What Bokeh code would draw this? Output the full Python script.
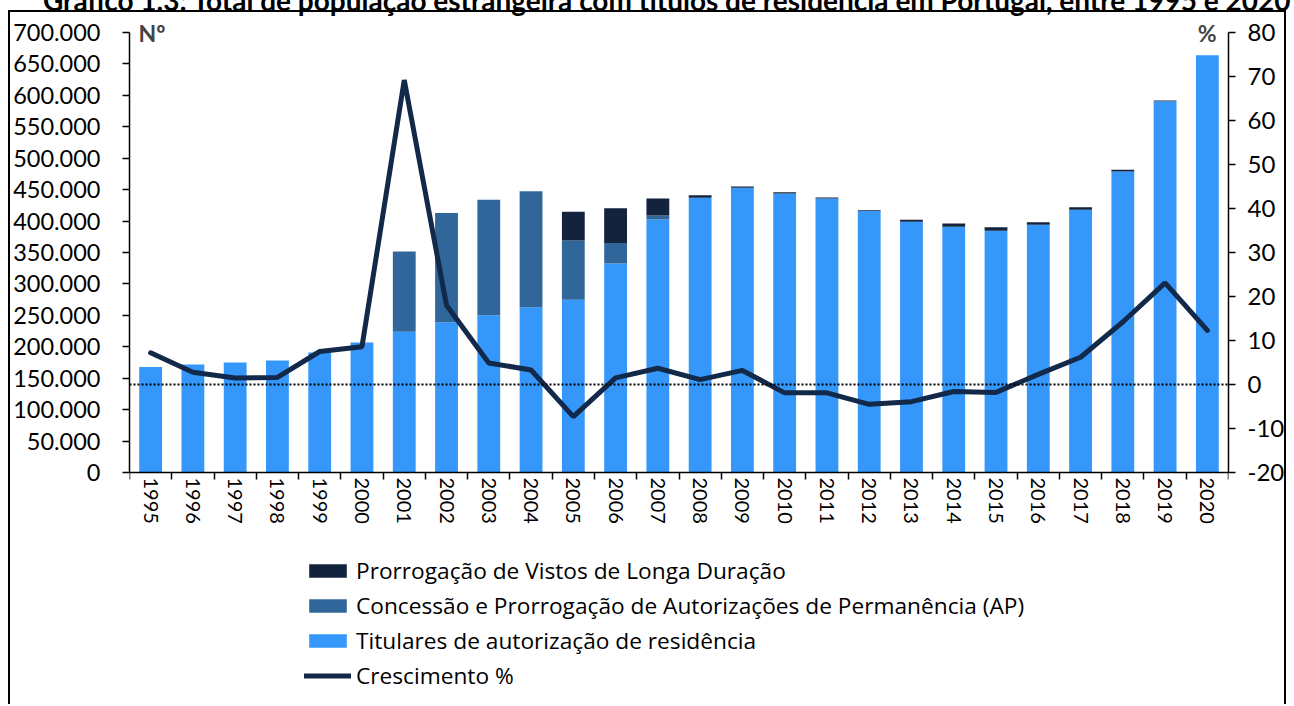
import numpy as np
from bokeh.plotting import figure
from bokeh.models import (Range1d, LinearAxis, FixedTicker, SingleIntervalTicker,
                          CustomJSTickFormatter, Legend, LegendItem, Span, Label,
                          ColumnDataSource, Div)
from bokeh.embed import file_html
from bokeh.resources import INLINE

# ---------------- data ----------------
title = ("Gráfico 1.3: Total de população estrangeira com títulos de residência "
         "em Portugal, entre 1995 e 2020")
years = [str(y) for y in range(1995, 2021)]
titulares = [168000, 172000, 175000, 178000, 191000, 207000, 224000, 239000, 250000,
             263000, 275000, 332500, 402500, 437000, 453000, 444000, 436000, 416000,
             399000, 391000, 384500, 394000, 418000, 479000, 590800, 664000]
autoriz_perm = [0, 0, 0, 0, 0, 0, 127600, 174000, 184000, 184500, 94000, 32500, 6500,
                0, 0, 0, 0, 0, 0, 0, 0, 0, 0, 0, 0, 0]
vistos_ld = [0, 0, 0, 0, 0, 0, 0, 0, 0, 0, 46000, 55500, 27000, 4000, 2000, 2000, 1500,
             1300, 3000, 5000, 5500, 4000, 4000, 2500, 1000, 0]
crescimento = [7.2, 2.8, 1.5, 1.6, 7.5, 8.6, 69.2, 18.0, 4.9, 3.3, -7.3, 1.5, 3.7, 1.1,
               3.2, -1.9, -1.9, -4.5, -3.9, -1.6, -1.8, 2.3, 6.2, 14.2, 23.1, 12.3]
left_ticks = list(range(0, 700001, 50000))
left_max = 700000
pct_min, pct_max = -20, 80

labels = ["Prorrogação de Vistos de Longa Duração",
          "Concessão e Prorrogação de Autorizações de Permanência (AP)",
          "Titulares de autorização de residência",
          "Crescimento %"]

C_LIGHT = "#3497F9"
C_MID = "#31669A"
C_DARK = "#13233D"
C_LINE = "#12294A"
FONT = "Lato"
LEG_FONT = "Open Sans"

# layout (pixels): the frame spans the whole canvas height so that the unit
# labels and the legend are drawn inside it; the axes are bounded.
CANVAS_H = 694
AXIS_PX = 440.0      # height of the 0..700000 axis
TOP_PX = 20.0        # frame space above the top tick
BOTTOM_PX = CANVAS_H - TOP_PX - AXIS_PX  # frame space below the zero line
per_px_left = left_max / AXIS_PX
per_px_pct = (pct_max - pct_min) / AXIS_PX

xs = list(range(len(years)))
src = ColumnDataSource(dict(x=xs, tit=titulares, ap=autoriz_perm, vld=vistos_ld,
                            g=crescimento))

p = figure(width=1278, height=CANVAS_H, output_backend="svg", toolbar_location=None,
           x_range=Range1d(-0.5, len(years) - 0.5),
           y_range=Range1d(-BOTTOM_PX * per_px_left, left_max + TOP_PX * per_px_left),
           min_border_left=113, min_border_right=60, min_border_top=0,
           min_border_bottom=0,
           styles={"position": "absolute", "left": "8px", "top": "10px",
                   "border-left": "2px solid black", "border-top": "2px solid black",
                   "border-right": "2px solid black"})
p.outline_line_color = None
p.xgrid.visible = False
p.ygrid.visible = False
p.extra_y_ranges = {"pct": Range1d(pct_min - BOTTOM_PX * per_px_pct,
                                   pct_max + TOP_PX * per_px_pct)}

bars = p.vbar_stack(["tit", "ap", "vld"], x="x", width=0.54, source=src,
                    color=[C_LIGHT, C_MID, C_DARK], line_color=None)

zero = Span(location=0, dimension="width", y_range_name="pct", line_color="black",
            line_width=2, line_dash="2 2")
p.add_layout(zero)

ln = p.line("x", "g", source=src, y_range_name="pct", line_color=C_LINE,
            line_width=5, line_cap="round")

# ---- axes ----
xa = p.xaxis[0]
xa.fixed_location = 0
xa.ticker = FixedTicker(ticks=xs, minor_ticks=[i - 0.5 for i in range(len(years) + 1)])
xa.major_label_overrides = {i: y for i, y in enumerate(years)}
xa.major_label_orientation = "vertical"
xa.major_tick_out = 0
xa.major_tick_in = 0
xa.minor_tick_out = 7
xa.minor_tick_in = 0
xa.minor_tick_line_color = "black"
xa.minor_tick_line_width = 1.5
xa.axis_line_width = 1.5
xa.axis_line_color = "black"
xa.major_label_text_font = FONT
xa.major_label_text_font_size = "20px"
xa.major_label_text_color = "black"
xa.major_label_standoff = -2

ya = p.yaxis[0]
ya.ticker = FixedTicker(ticks=left_ticks)
ya.bounds = (0, left_max)
ya.formatter = CustomJSTickFormatter(
    code="return tick.toFixed(0).replace(/\\B(?=(\\d{3})+(?!\\d))/g, '.');")
ya.major_tick_out = 7
ya.major_tick_in = 0
ya.minor_tick_out = 0
ya.minor_tick_in = 0
ya.axis_line_width = 1.5
ya.major_tick_line_width = 1.5
ya.major_label_text_font = FONT
ya.major_label_text_font_size = "23.5px"
ya.major_label_text_color = "black"
ya.major_label_standoff = 22

ra = LinearAxis(y_range_name="pct", ticker=SingleIntervalTicker(interval=10),
                bounds=(pct_min, pct_max),
                formatter=CustomJSTickFormatter(code="return tick.toFixed(0);"))
ra.major_tick_out = 7
ra.major_tick_in = 0
ra.minor_tick_out = 0
ra.minor_tick_in = 0
ra.axis_line_width = 1.5
ra.major_tick_line_width = 1.5
ra.major_label_text_font = FONT
ra.major_label_text_font_size = "24px"
ra.major_label_text_color = "black"
ra.major_label_text_align = "left"
ra.major_label_standoff = 12
p.add_layout(ra, "right")

p.add_layout(Label(x=-0.5, y=left_max, x_offset=9, text="Nº", text_font=FONT,
                   text_font_style="bold", text_font_size="23px",
                   text_baseline="middle", text_align="left"))
p.add_layout(Label(x=len(years) - 0.5, y=left_max, x_offset=-12, text="%",
                   text_font=FONT, text_font_style="bold", text_font_size="23px",
                   text_baseline="middle", text_align="right"))

legend = Legend(items=[LegendItem(label=labels[0], renderers=[bars[2]]),
                       LegendItem(label=labels[1], renderers=[bars[1]]),
                       LegendItem(label=labels[2], renderers=[bars[0]]),
                       LegendItem(label=labels[3], renderers=[ln])],
                location=(175, 13), orientation="vertical",
                glyph_width=47, glyph_height=17, label_height=35, spacing=0,
                label_standoff=5, padding=0, margin=0,
                border_line_color=None, background_fill_alpha=0,
                label_text_font=LEG_FONT, label_text_font_size="22.7px",
                label_text_color="black")
p.add_layout(legend, "center")

head = Div(text=title, width=1260, height=28,
           styles={"position": "absolute", "left": "38px", "top": "-19px",
                   "font-family": "Lato", "font-weight": "bold",
                   "font-size": "28px", "line-height": "28px",
                   "white-space": "nowrap", "color": "black"})

open("out.html", "w").write(file_html([p, head], INLINE))
